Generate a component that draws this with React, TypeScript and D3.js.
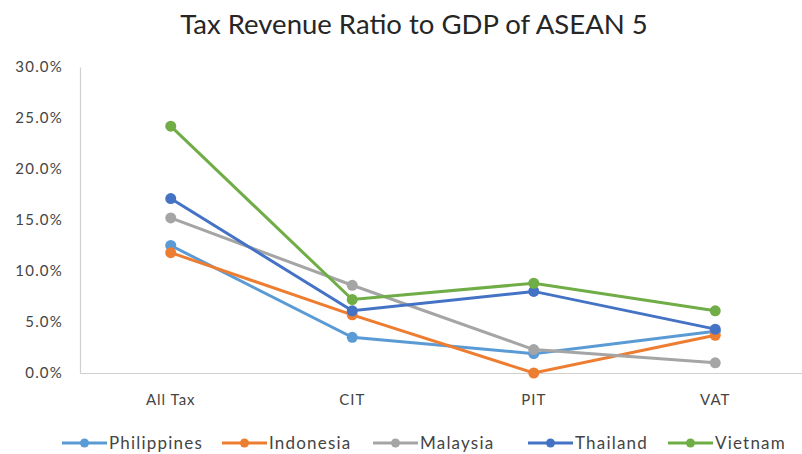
import React, { useEffect, useRef } from 'react';
import * as d3 from 'd3';

const categories = ['All Tax', 'CIT', 'PIT', 'VAT'];
const seriesNames = ['Philippines', 'Indonesia', 'Malaysia', 'Thailand', 'Vietnam'];
const seriesColors = ['#5B9BD5', '#ED7D31', '#A5A5A5', '#4472C4', '#70AD47'];
const philippines = [12.5, 3.5, 1.9, 4.1];
const indonesia = [11.8, 5.7, 0.0, 3.7];
const malaysia = [15.2, 8.6, 2.3, 1.0];
const thailand = [17.1, 6.1, 8.0, 4.3];
const vietnam = [24.2, 7.2, 8.8, 6.1];
const yTicks = [0, 5, 10, 15, 20, 25, 30];
const legendX = [62, 222, 373, 528, 668];

const seriesValues = [philippines, indonesia, malaysia, thailand, vietnam];

const W = 802;
const H = 454;
const FONT = 'Lato, "Open Sans", sans-serif';

export default function App() {
  const svgRef = useRef<SVGSVGElement>(null);

  useEffect(() => {
    if (!svgRef.current) return;
    const svg = d3.select(svgRef.current);
    svg.selectAll('*').remove();

    const margin = { top: 67, right: 0, bottom: 81, left: 80 };
    const innerBottom = H - margin.bottom;

    const x = d3.scaleBand().domain(categories).range([margin.left, 806]);
    const y = d3.scaleLinear().domain([0, 30]).range([innerBottom, margin.top]);

    // Titel
    svg.append('text')
      .attr('x', 414)
      .attr('y', 34)
      .attr('text-anchor', 'middle')
      .attr('font-family', FONT)
      .attr('font-size', 27.5)
      .attr('fill', '#262626')
      .text('Tax Revenue Ratio to GDP of ASEAN 5');

    // Y axis
    const yAxis = d3.axisLeft(y)
      .tickValues(yTicks)
      .tickSize(0)
      .tickPadding(17)
      .tickFormat(d => `${(+d).toFixed(1)}%`);
    const gy = svg.append('g')
      .attr('transform', `translate(${margin.left},0)`)
      .call(yAxis);
    gy.select('.domain').attr('stroke', '#d0d0d0').attr('stroke-width', 1.2);
    gy.selectAll('text')
      .attr('font-family', FONT)
      .attr('font-size', 15)
      .attr('letter-spacing', 1.2)
      .attr('fill', '#444');

    // X axis
    const xAxis = d3.axisBottom(x).tickSize(0).tickPadding(21);
    const gx = svg.append('g')
      .attr('transform', `translate(0,${innerBottom})`)
      .call(xAxis);
    gx.select('.domain').attr('stroke', '#d0d0d0').attr('stroke-width', 1.2);
    gx.selectAll('text')
      .attr('font-family', FONT)
      .attr('font-size', 15)
      .attr('letter-spacing', 1)
      .attr('fill', '#444');

    const cx = (c: string) => (x(c) || 0) + x.bandwidth() / 2;

    const line = d3.line<number>()
      .x((_, i) => cx(categories[i]))
      .y(d => y(d));

    seriesValues.forEach((vals, si) => {
      svg.append('path')
        .datum(vals)
        .attr('d', line)
        .attr('fill', 'none')
        .attr('stroke', seriesColors[si])
        .attr('stroke-width', 3);
      svg.selectAll(`.pt-${si}`)
        .data(vals)
        .enter()
        .append('circle')
        .attr('class', `pt-${si}`)
        .attr('cx', (_, i) => cx(categories[i]))
        .attr('cy', d => y(d))
        .attr('r', 5.5)
        .attr('fill', seriesColors[si]);
    });

    // Legend
    const legend = svg.append('g').attr('transform', 'translate(0,443)');
    seriesNames.forEach((name, si) => {
      const lx = legendX[si];
      legend.append('line')
        .attr('x1', lx).attr('x2', lx + 45)
        .attr('y1', 0).attr('y2', 0)
        .attr('stroke', seriesColors[si])
        .attr('stroke-width', 3);
      legend.append('circle')
        .attr('cx', lx + 22.5).attr('cy', 0)
        .attr('r', 4.5)
        .attr('fill', seriesColors[si]);
      legend.append('text')
        .attr('x', lx + 47)
        .attr('y', 6)
        .attr('font-family', FONT)
        .attr('font-size', 17)
        .attr('letter-spacing', 1.2)
        .attr('fill', '#444')
        .text(name);
    });
  }, []);

  return (
    <div style={{ position: 'fixed', left: 0, top: 0, width: W, height: H, background: '#fff', overflow: 'hidden' }}>
      <svg ref={svgRef} width={W} height={H} style={{ display: 'block' }} />
    </div>
  );
}
